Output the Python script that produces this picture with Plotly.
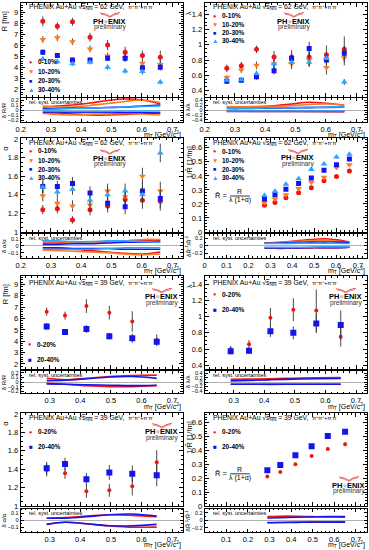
import plotly.graph_objects as go

W, H = 369, 550

# ---------------- data ----------------
mt62 = [0.273, 0.321, 0.371, 0.429, 0.487, 0.545, 0.602, 0.661]
mt39 = [0.29, 0.35, 0.42, 0.495, 0.57, 0.65]

cent62 = ["0-10%", "10-20%", "20-30%", "30-40%"]
cent39 = ["0-20%", "20-40%"]

# R [fm], 62 GeV
R62_0010 = [8.20, 7.75, 8.15, 6.75, 6.05, 5.40, 5.10, 4.95]
R62_0010_err = [0.45, 0.35, 0.35, 0.40, 0.45, 0.50, 0.45, 0.60]
R62_1020 = [6.55, 6.70, 6.35, 5.70, 5.05, 4.90, 4.40, 4.30]
R62_1020_err = [0.30, 0.30, 0.30, 0.30, 0.30, 0.35, 0.30, 0.35]
R62_2030 = [5.40, 5.10, 4.70, 4.70, 4.85, 4.85, 4.00, 4.05]
R62_2030_err = [0.25, 0.22, 0.20, 0.22, 0.25, 0.30, 0.25, 0.30]
R62_3040 = [4.80, 4.55, 4.35, 4.50, 4.05, 3.70, 3.65, 2.70]
R62_3040_err = [0.20, 0.20, 0.18, 0.20, 0.22, 0.22, 0.25, 0.20]

# lambda, 62 GeV
L62_0010 = [0.69, 0.725, 0.94, 0.84, 0.84, 0.84, 0.87, 0.94]
L62_0010_err = [0.05, 0.05, 0.05, 0.08, 0.09, 0.11, 0.12, 0.17]
L62_1020 = [0.57, 0.67, 0.73, 0.75, 0.75, 0.80, 0.70, 0.83]
L62_1020_err = [0.03, 0.04, 0.05, 0.06, 0.07, 0.08, 0.09, 0.10]
L62_2030 = [0.52, 0.535, 0.58, 0.66, 0.82, 0.95, 0.80, 0.89]
L62_2030_err = [0.03, 0.03, 0.04, 0.05, 0.06, 0.09, 0.07, 0.10]
L62_3040 = [0.535, 0.54, 0.62, 0.75, 0.77, 0.77, 0.82, 0.51]
L62_3040_err = [0.03, 0.03, 0.04, 0.05, 0.06, 0.06, 0.07, 0.04]

# alpha, 62 GeV
A62_0010 = [1.24, 1.25, 1.13, 1.24, 1.28, 1.35, 1.34, 1.33]
A62_0010_err = [0.05, 0.05, 0.04, 0.06, 0.07, 0.08, 0.09, 0.10]
A62_1020 = [1.39, 1.31, 1.28, 1.29, 1.44, 1.38, 1.60, 1.44]
A62_1020_err = [0.06, 0.06, 0.06, 0.07, 0.08, 0.09, 0.09, 0.10]
A62_2030 = [1.49, 1.49, 1.52, 1.42, 1.31, 1.27, 1.44, 1.36]
A62_2030_err = [0.07, 0.06, 0.07, 0.07, 0.07, 0.08, 0.09, 0.10]
A62_3040 = [1.48, 1.43, 1.46, 1.34, 1.40, 1.44, 1.40, 1.85]
A62_3040_err = [0.06, 0.06, 0.06, 0.07, 0.08, 0.08, 0.09, 0.10]

# 1/R-hat [1/fm], 62 GeV
IR62_0010 = [0.19, 0.21, 0.245, 0.28, 0.315, 0.365, 0.395, 0.435]
IR62_0010_err = [0.006, 0.006, 0.007, 0.008, 0.008, 0.009, 0.010, 0.012]
IR62_1020 = [0.21, 0.235, 0.265, 0.31, 0.355, 0.39, 0.46, 0.48]
IR62_1020_err = [0.006, 0.006, 0.007, 0.008, 0.008, 0.009, 0.010, 0.012]
IR62_2030 = [0.235, 0.265, 0.305, 0.345, 0.385, 0.44, 0.48, 0.52]
IR62_2030_err = [0.006, 0.006, 0.007, 0.008, 0.008, 0.009, 0.010, 0.012]
IR62_3040 = [0.26, 0.29, 0.34, 0.38, 0.445, 0.485, 0.535, 0.555]
IR62_3040_err = [0.006, 0.006, 0.007, 0.008, 0.008, 0.009, 0.010, 0.012]

# 39 GeV
R39_0020 = [6.61, 6.26, 7.10, 6.52, 5.74, 4.10]
R39_0020_err = [0.35, 0.35, 0.60, 0.60, 0.90, 0.50]
R39_2040 = [5.31, 4.82, 5.08, 4.45, 4.27, 3.96]
R39_2040_err = [0.30, 0.25, 0.35, 0.30, 0.40, 0.35]
L39_0020 = [0.598, 0.66, 0.987, 1.085, 1.075, 0.75]
L39_0020_err = [0.04, 0.05, 0.12, 0.14, 0.26, 0.12]
L39_2040 = [0.573, 0.578, 0.82, 0.80, 0.915, 0.895]
L39_2040_err = [0.04, 0.04, 0.07, 0.08, 0.12, 0.18]
A39_0020 = [1.39, 1.355, 1.16, 1.17, 1.215, 1.475]
A39_0020_err = [0.07, 0.06, 0.07, 0.07, 0.10, 0.13]
A39_2040 = [1.41, 1.455, 1.29, 1.365, 1.35, 1.335]
A39_2040_err = [0.07, 0.07, 0.07, 0.08, 0.09, 0.12]
IR39_0020 = [0.213, 0.245, 0.30, 0.36, 0.41, 0.445]
IR39_0020_err = [0.005, 0.006, 0.007, 0.008, 0.012, 0.014]
IR39_2040 = [0.257, 0.295, 0.365, 0.43, 0.505, 0.535]
IR39_2040_err = [0.005, 0.006, 0.007, 0.008, 0.010, 0.012]

# relative systematic uncertainties (upper / lower)
uR62_up = [[0.06, 0.08, 0.10, 0.14, 0.19, 0.22, 0.20, 0.12], [0.08, 0.06, 0.06, 0.09, 0.13, 0.17, 0.20, 0.15],
           [0.03, 0.03, 0.04, 0.04, 0.05, 0.06, 0.08, 0.10], [0.01, 0.02, 0.03, 0.04, 0.05, 0.06, 0.07, 0.08]]
uR62_lo = [[-0.05, -0.06, -0.08, -0.10, -0.10, -0.09, -0.07, -0.06], [-0.07, -0.09, -0.10, -0.09, -0.08, -0.07, -0.08, -0.10],
           [-0.04, -0.04, -0.05, -0.05, -0.05, -0.05, -0.05, -0.06], [-0.02, -0.02, -0.03, -0.03, -0.03, -0.02, -0.02, -0.02]]
uL62_up = [[0.12, 0.13, 0.14, 0.18, 0.25, 0.32, 0.28, 0.20], [0.14, 0.13, 0.13, 0.15, 0.18, 0.23, 0.25, 0.20],
           [0.06, 0.06, 0.07, 0.08, 0.09, 0.10, 0.11, 0.12], [0.08, 0.08, 0.08, 0.09, 0.10, 0.11, 0.12, 0.13]]
uL62_lo = [[-0.03, -0.03, -0.04, -0.04, -0.05, -0.05, -0.06, -0.06], [-0.05, -0.05, -0.06, -0.06, -0.06, -0.07, -0.07, -0.08],
           [-0.06, -0.06, -0.06, -0.06, -0.06, -0.06, -0.06, -0.06], [-0.04, -0.04, -0.04, -0.04, -0.04, -0.04, -0.04, -0.04]]
uA62_up = [[0.04, 0.04, 0.05, 0.05, 0.06, 0.07, 0.08, 0.08], [0.06, 0.06, 0.05, 0.05, 0.06, 0.07, 0.09, 0.09],
           [0.02, 0.02, 0.03, 0.03, 0.04, 0.05, 0.05, 0.06], [0.07, 0.07, 0.06, 0.06, 0.07, 0.07, 0.06, 0.05]]
uA62_lo = [[-0.03, -0.04, -0.05, -0.07, -0.09, -0.11, -0.12, -0.09], [-0.06, -0.07, -0.08, -0.09, -0.10, -0.12, -0.13, -0.12],
           [-0.03, -0.03, -0.04, -0.04, -0.04, -0.05, -0.05, -0.05], [-0.05, -0.05, -0.05, -0.05, -0.04, -0.03, -0.03, -0.03]]
uIR62_up = [[0.08, 0.09, 0.11, 0.14, 0.17, 0.19, 0.16, 0.10], [0.07, 0.08, 0.10, 0.12, 0.14, 0.15, 0.13, 0.09],
            [0.07, 0.07, 0.08, 0.09, 0.10, 0.10, 0.10, 0.09], [0.06, 0.06, 0.06, 0.07, 0.07, 0.07, 0.07, 0.06]]
uIR62_lo = [[-0.07, -0.07, -0.07, -0.06, -0.06, -0.05, -0.05, -0.04], [-0.06, -0.06, -0.06, -0.06, -0.05, -0.05, -0.05, -0.04],
            [-0.06, -0.06, -0.06, -0.06, -0.05, -0.05, -0.05, -0.04], [-0.04, -0.04, -0.04, -0.04, -0.04, -0.03, -0.03, -0.03]]
uR39_up = [[0.08, 0.05, 0.08, 0.12, 0.14, 0.15], [0.03, 0.04, 0.07, 0.11, 0.12, 0.08]]
uR39_lo = [[-0.03, -0.05, -0.08, -0.10, -0.10, -0.08], [-0.04, -0.05, -0.06, -0.07, -0.08, -0.07]]
uL39_up = [[0.12, 0.13, 0.15, 0.17, 0.19, 0.20], [0.05, 0.07, 0.10, 0.13, 0.15, 0.16]]
uL39_lo = [[-0.10, -0.10, -0.11, -0.10, -0.10, -0.10], [-0.10, -0.10, -0.10, -0.10, -0.10, -0.10]]
uA39_up = [[0.03, 0.04, 0.06, 0.08, 0.07, 0.05], [0.03, 0.03, 0.05, 0.08, 0.09, 0.06]]
uA39_lo = [[-0.06, -0.03, -0.05, -0.08, -0.10, -0.10], [-0.06, -0.03, -0.05, -0.08, -0.08, -0.06]]
uIR39_up = [[0.10, 0.11, 0.11, 0.10, 0.09, 0.08], [0.06, 0.07, 0.08, 0.09, 0.10, 0.10]]
uIR39_lo = [[-0.06, -0.06, -0.05, -0.05, -0.05, -0.04], [-0.07, -0.06, -0.06, -0.05, -0.05, -0.05]]

# ---------------- styles ----------------
RED, ORANGE, BLUE, LBLUE = "#f01515", "#ff7a22", "#1414f0", "#2aa6ff"
sty62 = [(RED, "circle", 5, "●"), (ORANGE, "triangle-down", 6, "▼"),
         (BLUE, "square", 5, "■"), (LBLUE, "triangle-up", 6, "▲")]
sty39 = [(RED, "circle", 4, "●"), (BLUE, "square", 6, "■")]

FONT = "Liberation Sans, Arial, sans-serif"

def fx(x):
    return x / W

def fy(y):
    return 1 - y / H

COLS = [(20.7, 182.7), (204.7, 366.7)]
ROWS = [((3, 96.5), (98, 122), 134.8), ((138, 232), (234, 257.5), 270), ((276, 368.5), (371, 393), 406),
        ((413, 506), (508.5, 532), 544.5)]

R_T = "R [fm]"
IR_T = "1/R\u0302 [1/fm]"
panels = [
    dict(col=0, row=0, x=mt62, xr=[0.2, 0.735], xtv=None, yr=[1.4, 9.85], dy=1, mdy=0.2, ur=[-0.24, 0.24], udy=0.1,
         yt=R_T, ut="δ R/R", energy="62", sty=sty62, cents=cent62,
         ys=[R62_0010, R62_1020, R62_2030, R62_3040], es=[R62_0010_err, R62_1020_err, R62_2030_err, R62_3040_err],
         up=uR62_up, lo=uR62_lo),
    dict(col=1, row=0, x=mt62, xr=[0.2, 0.735], xtv=None, yr=[0.32, 1.55], dy=0.2, mdy=0.05, ur=[-0.5, 0.5], udy=0.2,
         yt="λ", ut="δ λ/λ", energy="62", sty=sty62, cents=cent62,
         ys=[L62_0010, L62_1020, L62_2030, L62_3040], es=[L62_0010_err, L62_1020_err, L62_2030_err, L62_3040_err],
         up=uL62_up, lo=uL62_lo),
    dict(col=0, row=1, x=mt62, xr=[0.2, 0.735], xtv=None, yr=[1.0, 2.01], dy=0.2, mdy=0.05, ur=[-0.17, 0.17], udy=0.1,
         yt="α", ut="δ α/α", energy="62", sty=sty62, cents=cent62,
         ys=[A62_0010, A62_1020, A62_2030, A62_3040], es=[A62_0010_err, A62_1020_err, A62_2030_err, A62_3040_err],
         up=uA62_up, lo=uA62_lo),
    dict(col=1, row=1, x=mt62, xr=[0.0, 0.74], xtv=None, yr=[0.0, 0.67], dy=0.1, mdy=0.02, ur=[-0.32, 0.32], udy=0.2,
         yt=IR_T, ut="δR\u0302<sup>-1</sup>/R\u0302<sup>-1</sup>", energy="62", sty=sty62, cents=cent62,
         ys=[IR62_0010, IR62_1020, IR62_2030, IR62_3040], es=[IR62_0010_err, IR62_1020_err, IR62_2030_err, IR62_3040_err],
         up=uIR62_up, lo=uIR62_lo),
    dict(col=0, row=2, x=mt39, xr=[0.205, 0.735], xtv=None, yr=[1.6, 9.75], dy=1, mdy=0.2, ur=[-0.24, 0.24], udy=0.1,
         yt=R_T, ut="δ R/R", energy="39", sty=sty39, cents=cent39,
         ys=[R39_0020, R39_2040], es=[R39_0020_err, R39_2040_err], up=uR39_up, lo=uR39_lo),
    dict(col=1, row=2, x=mt39, xr=[0.205, 0.735], xtv=None, yr=[0.36, 1.5], dy=0.2, mdy=0.05, ur=[-0.5, 0.5], udy=0.2,
         yt="λ", ut="δ λ/λ", energy="39", sty=sty39, cents=cent39,
         ys=[L39_0020, L39_2040], es=[L39_0020_err, L39_2040_err], up=uL39_up, lo=uL39_lo),
    dict(col=0, row=3, x=mt39, xr=[0.205, 0.735], xtv=None, yr=[1.0, 2.01], dy=0.2, mdy=0.05, ur=[-0.17, 0.17], udy=0.1,
         yt="α", ut="δ α/α", energy="39", sty=sty39, cents=cent39,
         ys=[A39_0020, A39_2040], es=[A39_0020_err, A39_2040_err], up=uA39_up, lo=uA39_lo),
    dict(col=1, row=3, x=mt39, xr=[0.0, 0.75], xtv=[0.1, 0.2, 0.3, 0.4, 0.5, 0.6, 0.7], yr=[0.0, 0.67], dy=0.1, mdy=0.02,
         ur=[-0.32, 0.32], udy=0.2,
         yt=IR_T, ut="δR\u0302<sup>-1</sup>/R\u0302<sup>-1</sup>", energy="39", sty=sty39, cents=cent39,
         ys=[IR39_0020, IR39_2040], es=[IR39_0020_err, IR39_2040_err], up=uIR39_up, lo=uIR39_lo),
]

# text placement (pixel coords): title y, legend x, legend ys, logo centre
texts = [
    dict(ty=7, lx=30.7, lys=[61.7, 71, 81, 90], logo=(109, 21)),
    dict(ty=6.5, lx=214.7, lys=[16, 24.3, 32.7, 40.7], logo=(293, 21)),
    dict(ty=143, lx=30.7, lys=[150.7, 160.3, 169.3, 177.7], logo=(109, 158)),
    dict(ty=143, lx=214.7, lys=[151, 160.3, 169, 177.3], logo=(297, 157.7), formula=195.5),
    dict(ty=283, lx=29.5, lys=[344, 359.3], logo=(161, 296.7)),
    dict(ty=283, lx=214.7, lys=[294, 309.3], logo=(345, 296.7)),
    dict(ty=418, lx=30.7, lys=[431.7, 446.7], logo=(161, 431.7)),
    dict(ty=418, lx=214.7, lys=[431.7, 446.7], logo=(348, 485), formula=473.3),
]

fig = go.Figure()
layout = dict(width=W, height=H, margin=dict(l=0, r=0, t=0, b=0, autoexpand=False), showlegend=False,
              paper_bgcolor="white", plot_bgcolor="white", font=dict(family=FONT, size=7, color="black"))
annotations = []
shapes = []

def ann(text, x, y, size=7, xanchor="left", yanchor="middle", angle=0, color="black"):
    annotations.append(dict(text=text, x=fx(x), y=fy(y), xref="paper", yref="paper", showarrow=False,
                            xanchor=xanchor, yanchor=yanchor, textangle=angle,
                            font=dict(size=size, color=color, family=FONT)))

def axis_common(domain, rng, dtick, mdtick, labels, fsize, ticklen):
    return dict(domain=domain, range=rng, showgrid=False, zeroline=False, showline=True, linecolor="black",
                linewidth=1, mirror="allticks", ticks="inside", ticklen=ticklen, tickwidth=1, tickcolor="black",
                dtick=dtick, tick0=0, showticklabels=labels, tickfont=dict(size=fsize, family=FONT),
                minor=dict(ticks="inside", ticklen=ticklen / 2, dtick=mdtick, tick0=0, tickcolor="black",
                           showgrid=False))

for i, p in enumerate(panels):
    nm, nu = 2 * i + 1, 2 * i + 2
    x0, x1 = COLS[p["col"]]
    (mt, mb), (ut, ub), xtit = ROWS[p["row"]]
    xdom = [fx(x0), fx(x1)]
    kx = lambda n: "xaxis" if n == 1 else f"xaxis{n}"
    ky = lambda n: "yaxis" if n == 1 else f"yaxis{n}"
    rx = lambda n: "x" if n == 1 else f"x{n}"
    ry = lambda n: "y" if n == 1 else f"y{n}"

    xa = axis_common(xdom, p["xr"], 0.1, 0.02, False, 7.5, 4)
    xa["anchor"] = ry(nm)
    xu = axis_common(xdom, p["xr"], 0.1, 0.02, True, 7.5, 3)
    xu["anchor"] = ry(nu)
    xu["matches"] = rx(nm)
    if p["xtv"] is not None:
        xu["tickvals"] = p["xtv"]
        xa["tickvals"] = p["xtv"]
    ya = axis_common([fy(mb), fy(mt)], p["yr"], p["dy"], p["mdy"], True, 7.5, 4)
    ya["anchor"] = rx(nm)
    yu = axis_common([fy(ub), fy(ut)], p["ur"], p["udy"], p["udy"] / 2, True, 5.5, 3)
    yu["anchor"] = rx(nu)
    yu["zeroline"] = True
    yu["zerolinecolor"] = "#b0b0b0"
    yu["zerolinewidth"] = 1
    layout[kx(nm)] = xa
    layout[kx(nu)] = xu
    layout[ky(nm)] = ya
    layout[ky(nu)] = yu

    # uncertainty bands
    for k, (col, sym, sz, ch) in enumerate(p["sty"]):
        for arr in (p["up"][k], p["lo"][k]):
            fig.add_trace(go.Scatter(x=p["x"], y=arr, mode="lines", line=dict(color=col, width=1.6, shape="spline"),
                                     xaxis=rx(nu), yaxis=ry(nu), hoverinfo="skip"))
    # data points
    for k, (col, sym, sz, ch) in enumerate(p["sty"]):
        fig.add_trace(go.Scatter(x=p["x"], y=p["ys"][k], mode="markers", name=p["cents"][k],
                                 marker=dict(color=col, symbol=sym, size=sz, line=dict(width=0)),
                                 error_y=dict(type="data", array=p["es"][k], color="#333333", thickness=0.9, width=0),
                                 xaxis=rx(nm), yaxis=ry(nm)))

    t = texts[i]
    # title
    ann("PHENIX Au+Au \u221A<span style='text-decoration:overline'>s<sub>NN</sub></span> = %s GeV,  "
        "<span style='font-size:5.5px'>π<sup>+</sup>π<sup>+</sup>+π<sup>-</sup>π<sup>-</sup></span>" % p["energy"],
        x0 + 6.5, t["ty"], size=6.8)
    # legend
    for k, c in enumerate(p["cents"]):
        col, sym, sz, ch = p["sty"][k]
        ly = t["lys"][k]
        ann(ch, t["lx"], ly, size=5.5 if sz <= 5 else 6.5, xanchor="center", color=col)
        ann("<b>%s</b>" % c, t["lx"] + 5.5, ly, size=6.5)
    # logo
    lx, ly = t["logo"]
    ann("<b>PH<span style='color:#c8c8c8'>●</span>ENIX</b>", lx, ly, size=7.5, xanchor="center")
    ann("preliminary", lx + 1, ly + 6.3, size=6.5, xanchor="center", color="#333333")
    sx = lambda v: fx(v)
    sy = lambda v: fy(v)
    shapes.append(dict(type="path", xref="paper", yref="paper",
                       path="M %f,%f Q %f,%f %f,%f Q %f,%f %f,%f" % (
                           sx(lx - 9), sy(ly - 8), sx(lx - 3), sy(ly - 7.5), sx(lx + 1), sy(ly - 4.5),
                           sx(lx + 4), sy(ly - 7.5), sx(lx + 11), sy(ly - 8.5)),
                       line=dict(color="#e03030", width=0.8)))
    shapes.append(dict(type="path", xref="paper", yref="paper",
                       path="M %f,%f Q %f,%f %f,%f Q %f,%f %f,%f" % (
                           sx(lx - 8), sy(ly - 6.8), sx(lx - 3), sy(ly - 6.3), sx(lx + 1), sy(ly - 3.6),
                           sx(lx + 4), sy(ly - 6.3), sx(lx + 10), sy(ly - 7.2)),
                       line=dict(color="#e03030", width=0.6)))
    # formula
    if "formula" in t:
        fyc = t["formula"]
        ann("R\u0302 =", x0 + 8, fyc, size=7.5)
        ann("R", x0 + 35, fyc - 4, size=7, xanchor="center")
        ann("λ (1+α)", x0 + 35, fyc + 4.5, size=7, xanchor="center")
        shapes.append(dict(type="line", xref="paper", yref="paper", x0=fx(x0 + 25.5), x1=fx(x0 + 45),
                           y0=fy(fyc + 0.5), y1=fy(fyc + 0.5), line=dict(color="black", width=0.8)))
    # axis titles
    ann(p["yt"], x0 - 15.5, mt + 6, size=7.5, xanchor="center", yanchor="top", angle=-90)
    ann(p["ut"], x0 - 16.5, (ut + ub) / 2, size=6, xanchor="center", yanchor="middle", angle=-90)
    ann("m<sub>T</sub> [GeV/c<sup>2</sup>]", x1, xtit, size=7, xanchor="right")
    ann("rel. syst. uncertainties", x0 + 6, ut + 4.3, size=5.5)

layout["annotations"] = annotations
layout["shapes"] = shapes
fig.update_layout(**layout)
fig.write_html("out.html", config={"displayModeBar": False},
               post_script="document.body.style.margin='0';document.body.style.padding='0';")
